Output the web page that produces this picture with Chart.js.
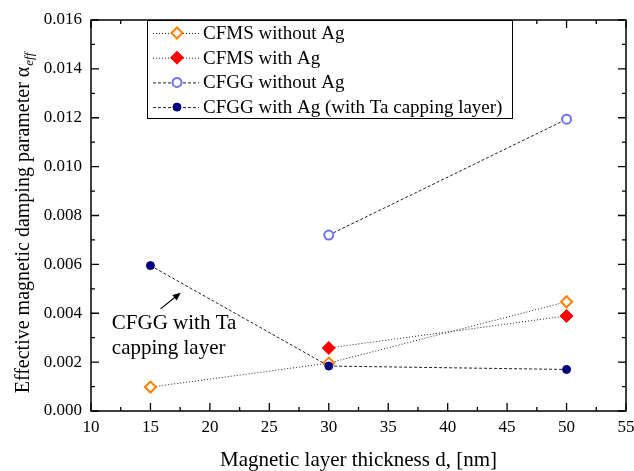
<!DOCTYPE html>
<html><head><meta charset="utf-8">
<script src="https://cdn.jsdelivr.net/npm/chart.js@4/dist/chart.umd.min.js"></script>
<style>html,body{margin:0;padding:0;background:#fff}#wrap{width:634px;height:471px;position:relative}</style>
</head><body><div id="wrap"><canvas id="c"></canvas></div>
<script>
// ---- data ----
const thickness = [15, 30, 50];
const cfmsWithoutAg = [0.00098, 0.00196, 0.00447];
const cfmsWithAg = [null, 0.00258, 0.00389];
const cfggWithoutAg = [null, 0.0072, 0.01194];
const cfggWithAg = [0.00595, 0.00184, 0.0017];
const seriesLabels = ['CFMS without Ag', 'CFMS with Ag', 'CFGG without Ag', 'CFGG with Ag (with Ta capping layer)'];
const xTickStep = 5, xMin = 10, xMax = 55;
const yTickStep = 0.002, yMin = 0, yMax = 0.016;
const xTitle = 'Magnetic layer thickness d, [nm]';
const yTitleMain = 'Effective magnetic damping parameter \u03B1';
const yTitleSub = 'eff';
const annotationLines = ['CFGG with Ta', 'capping layer'];
const annotationAnchor = {x: 11.75, y: 0.0036};       // data coords of text start (first line)
const arrowFrom = {x: 15.85, y: 0.00418};
const arrowTo = {x: 17.55, y: 0.00484};

const SERIF = '"Liberation Serif", "Times New Roman", serif';

function pts(vals) {
  const out = [];
  vals.forEach((v, i) => { if (v !== null) out.push({x: thickness[i], y: v}); });
  return out;
}

const datasets = [
  {label: seriesLabels[0], data: pts(cfmsWithoutAg), showLine: true, borderColor: '#222', borderWidth: 1, borderDash: [1, 2],
   pointStyle: 'rectRot', pointRadius: 5.5, pointBorderColor: '#FF8000', pointBackgroundColor: '#fff', pointBorderWidth: 2, order: 4},
  {label: seriesLabels[1], data: pts(cfmsWithAg), showLine: true, borderColor: '#222', borderWidth: 1, borderDash: [1, 2],
   pointStyle: 'rectRot', pointRadius: 6.5, pointBorderColor: '#FF0000', pointBackgroundColor: '#FF0000', pointBorderWidth: 1, order: 3},
  {label: seriesLabels[2], data: pts(cfggWithoutAg), showLine: true, borderColor: '#222', borderWidth: 1, borderDash: [3, 2],
   pointStyle: 'circle', pointRadius: 4.5, pointBorderColor: '#7070FF', pointBackgroundColor: '#fff', pointBorderWidth: 2, order: 2},
  {label: seriesLabels[3], data: pts(cfggWithAg), showLine: true, borderColor: '#222', borderWidth: 1, borderDash: [3, 2],
   pointStyle: 'circle', pointRadius: 4, pointBorderColor: '#000080', pointBackgroundColor: '#000080', pointBorderWidth: 1, order: 1}
];

const decorPlugin = {
  id: 'decor',
  afterDraw(chart) {
    const ctx = chart.ctx;
    const a = chart.chartArea;
    const xs = chart.scales.x, ys = chart.scales.y;
    ctx.save();
    // frame
    ctx.strokeStyle = '#000';
    ctx.lineWidth = 1.5;
    ctx.strokeRect(a.left, a.top, a.right - a.left, a.bottom - a.top);
    // ticks inside, all four sides
    ctx.lineWidth = 1.3;
    ctx.beginPath();
    for (let v = xMin; v <= xMax + 1e-9; v += xTickStep / 2) {
      const px = xs.getPixelForValue(v);
      const major = Math.abs((v - xMin) / xTickStep - Math.round((v - xMin) / xTickStep)) < 1e-6;
      const len = major ? 8 : 4;
      ctx.moveTo(px, a.bottom); ctx.lineTo(px, a.bottom - len);
      ctx.moveTo(px, a.top); ctx.lineTo(px, a.top + len);
    }
    for (let v = yMin; v <= yMax + 1e-9; v += yTickStep / 2) {
      const py = ys.getPixelForValue(v);
      const major = Math.abs((v - yMin) / yTickStep - Math.round((v - yMin) / yTickStep)) < 1e-6;
      const len = major ? 8 : 4;
      ctx.moveTo(a.left, py); ctx.lineTo(a.left + len, py);
      ctx.moveTo(a.right, py); ctx.lineTo(a.right - len, py);
    }
    ctx.stroke();

    // y title with subscript
    ctx.save();
    ctx.translate(29, (a.top + a.bottom) / 2 + 8);
    ctx.rotate(-Math.PI / 2);
    ctx.fillStyle = '#000';
    ctx.font = '20px ' + SERIF;
    const w1 = ctx.measureText(yTitleMain).width;
    ctx.font = 'italic 13px ' + SERIF;
    const w2 = ctx.measureText(yTitleSub).width;
    const start = -(w1 + w2) / 2;
    ctx.textBaseline = 'alphabetic';
    ctx.textAlign = 'left';
    ctx.font = '20px ' + SERIF;
    ctx.fillText(yTitleMain, start, 0);
    ctx.font = 'italic 13px ' + SERIF;
    ctx.fillText(yTitleSub, start + w1 + 1, 4);
    ctx.restore();

    // legend box
    const lb = {x: 147, y: a.top, w: 365, h: 98};
    ctx.fillStyle = '#fff';
    ctx.fillRect(lb.x, lb.y, lb.w, lb.h);
    ctx.strokeStyle = '#000';
    ctx.lineWidth = 1;
    ctx.strokeRect(lb.x + 0.5, lb.y + 0.5, lb.w, lb.h);
    chart.data.datasets.forEach((ds, i) => {
      const cy = lb.y + 13 + i * 24.7;
      ctx.save();
      ctx.strokeStyle = ds.borderColor;
      ctx.lineWidth = ds.borderWidth;
      ctx.setLineDash(ds.borderDash);
      ctx.beginPath();
      ctx.moveTo(lb.x + 6, cy + 0.5); ctx.lineTo(lb.x + 52, cy + 0.5);
      ctx.stroke();
      ctx.setLineDash([]);
      ctx.fillStyle = ds.pointBackgroundColor;
      ctx.strokeStyle = ds.pointBorderColor;
      ctx.lineWidth = ds.pointBorderWidth;
      Chart.helpers.drawPoint(ctx, {pointStyle: ds.pointStyle, radius: ds.pointRadius, rotation: 0, borderWidth: ds.pointBorderWidth}, lb.x + 30, cy);
      ctx.restore();
      ctx.fillStyle = '#000';
      ctx.font = '19px ' + SERIF;
      ctx.textBaseline = 'middle';
      ctx.textAlign = 'left';
      ctx.fillText(ds.label, lb.x + 56, cy + 1);
    });

    // annotation
    ctx.fillStyle = '#000';
    ctx.font = '21px ' + SERIF;
    ctx.textBaseline = 'middle';
    ctx.textAlign = 'left';
    const tx = xs.getPixelForValue(annotationAnchor.x), ty = ys.getPixelForValue(annotationAnchor.y);
    annotationLines.forEach((t, i) => ctx.fillText(t, tx, ty + i * 25));
    const fx = xs.getPixelForValue(arrowFrom.x), fy = ys.getPixelForValue(arrowFrom.y);
    const ex = xs.getPixelForValue(arrowTo.x), ey = ys.getPixelForValue(arrowTo.y);
    const ang = Math.atan2(ey - fy, ex - fx);
    ctx.strokeStyle = '#000';
    ctx.lineWidth = 1.2;
    ctx.beginPath();
    ctx.moveTo(fx, fy);
    ctx.lineTo(ex - 5 * Math.cos(ang), ey - 5 * Math.sin(ang));
    ctx.stroke();
    ctx.beginPath();
    ctx.moveTo(ex, ey);
    ctx.lineTo(ex - 8 * Math.cos(ang) + 3.5 * Math.sin(ang), ey - 8 * Math.sin(ang) - 3.5 * Math.cos(ang));
    ctx.lineTo(ex - 8 * Math.cos(ang) - 3.5 * Math.sin(ang), ey - 8 * Math.sin(ang) + 3.5 * Math.cos(ang));
    ctx.closePath();
    ctx.fill();
    ctx.restore();
  }
};

function fitScale(size, isX) {
  return function (scale) {
    if (isX) scale.height = size; else scale.width = size;
    scale.paddingLeft = 0; scale.paddingRight = 0; scale.paddingTop = 0; scale.paddingBottom = 0;
  };
}

new Chart(document.getElementById('c'), {
  type: 'scatter',
  data: {datasets},
  options: {
    responsive: true,
    maintainAspectRatio: false,
    animation: false,
    devicePixelRatio: 1,
    layout: {padding: {left: 0, top: 20, right: 8, bottom: 0}},
    plugins: {legend: {display: false}, tooltip: {enabled: false}},
    scales: {
      x: {
        type: 'linear', min: xMin, max: xMax,
        afterFit: fitScale(60, true),
        grid: {display: false, drawTicks: false},
        border: {display: false},
        ticks: {stepSize: xTickStep, color: '#000', padding: 6, font: {family: SERIF, size: 17}, maxRotation: 0, autoSkip: false},
        title: {display: true, text: xTitle, color: '#000', font: {family: SERIF, size: 21, lineHeight: 1.0}, padding: {top: 0, bottom: 0}}
      },
      y: {
        type: 'linear', min: yMin, max: yMax,
        afterFit: fitScale(91, false),
        grid: {display: false, drawTicks: false},
        border: {display: false},
        ticks: {stepSize: yTickStep, color: '#000', padding: 9, font: {family: SERIF, size: 17},
                callback: (v) => Number(v).toFixed(3)}
      }
    }
  },
  plugins: [decorPlugin]
});
</script>
</body></html>
